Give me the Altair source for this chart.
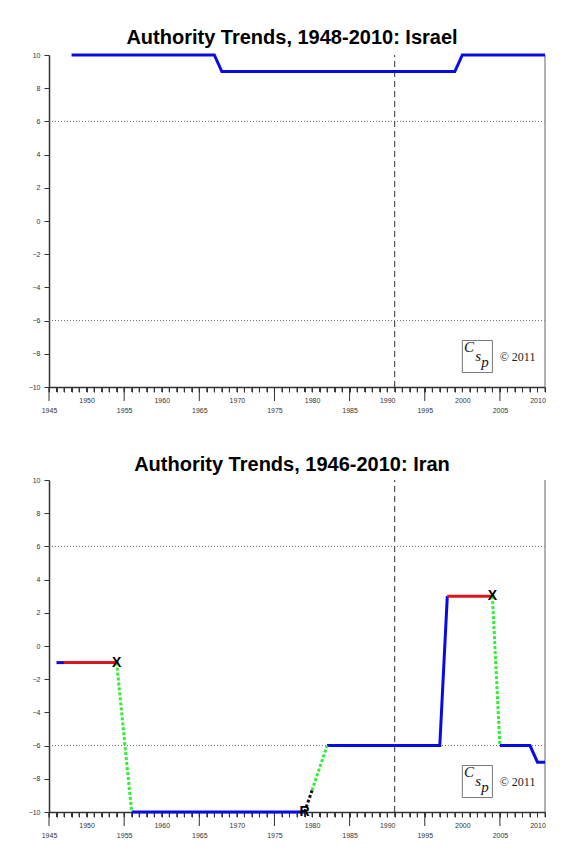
import altair as alt
import pandas as pd

# ---------------- data ----------------
isr_year = [1948, 1967, 1968, 1999, 2000, 2011]
isr_value = [10, 10, 9, 9, 10, 10]

iran_year = [1946, 1947, 1947, 1954, 1954, 1956, 1956, 1979, 1979, 1980, 1980, 1982,
             1982, 1997, 1998, 1998, 2004, 2004, 2005, 2005, 2009, 2010, 2011]
iran_value = [-1, -1, -1, -1, -1, -10, -10, -10, -10, -8.7, -8.7, -6,
              -6, -6, 3, 3, 3, 3, -6, -6, -6, -7, -7]
iran_seg = [0, 0, 1, 1, 2, 2, 3, 3, 4, 4, 5, 5,
            6, 6, 6, 7, 7, 8, 8, 9, 9, 9, 9]
iran_kind = ["Blue", "Blue", "Red", "Red", "Green", "Green", "Blue", "Blue", "Black", "Black", "Green", "Green",
             "Blue", "Blue", "Blue", "Red", "Red", "Green", "Green", "Blue", "Blue", "Blue", "Blue"]

iran_mark_year = [1954, 2004, 1979]
iran_mark_value = [-1, 3, -10]
iran_mark_text = ["X", "X", "R"]

grid_values = [6, -6]
vline_year = [1991]
x_ticks = list(range(1945, 2012))
x_major_ticks = list(range(1945, 2010, 10))
y_ticks = list(range(-10, 11, 2))

logo_box = {"x": [2000.0], "x2": [2004.0], "y": [-7.2], "y2": [-9.13]}
logo_letters = ["C", "s", "p"]
logo_letter_x = [2000.9, 2002.1, 2003.0]
logo_letter_y = [-7.6, -8.15, -8.5]
copyright_text = ["\u00a9 2011"]
copyright_x = [2007.35]
copyright_y = [-8.2]

titles = ["Authority Trends, 1948-2010: Israel", "Authority Trends, 1946-2010: Iran"]

# ---------------- helpers ----------------
W, H = 496, 332
FONT = "Liberation Sans"

xscale = alt.Scale(domain=[1945, 2011], nice=False, zero=False)
yscale = alt.Scale(domain=[-10, 10], nice=False, zero=False)

xaxis = alt.Axis(
    values=x_ticks, title=None, grid=False,
    labelExpr="datum.value % 5 == 0 ? datum.label : ''",
    format="d", labelOverlap=False, labelFlush=False, labelBound=False,
    tickSize=5,
    labelPadding={"condition": {"test": "datum.value % 10 == 5", "value": 14}, "value": 4},
    tickColor="#333333", domainColor="#333333", domainWidth=1.5, tickWidth=1,
    labelFont=FONT, labelFontSize=7, labelColor="#333333",
)
yaxis = alt.Axis(
    values=y_ticks, title=None, grid=False, format="d",
    tickSize=5, labelPadding=4, tickColor="#333333", domainColor="#333333",
    domainWidth=1.5, labelFont=FONT, labelFontSize=7, labelColor="#333333",
    minExtent=36, maxExtent=36, labelOverlap=False, labelFlush=False,
)


def X(field="year"):
    return alt.X(f"{field}:Q", scale=xscale, axis=xaxis)


def Y(field="value"):
    return alt.Y(f"{field}:Q", scale=yscale, axis=yaxis)


def decorations():
    grid_df = pd.DataFrame({"value": grid_values})
    grid = alt.Chart(grid_df).mark_rule(color="#666666", strokeDash=[1, 2], strokeWidth=1).encode(y=Y())
    vl_df = pd.DataFrame({"year": vline_year, "lo": [-10], "hi": [10]})
    vline = alt.Chart(vl_df).mark_rule(color="#333333", strokeDash=[6, 4], strokeWidth=1).encode(
        x=X(), y=Y("lo"), y2="hi")
    rb_df = pd.DataFrame({"year": [2011], "lo": [-10], "hi": [10]})
    rborder = alt.Chart(rb_df).mark_rule(color="#999999", strokeWidth=1.5).encode(
        x=X(), y=Y("lo"), y2="hi")
    mn_df = pd.DataFrame({"year": x_ticks})
    minor = alt.Chart(mn_df).mark_rule(color="#333333", strokeWidth=1, clip=False).encode(
        x=X(), y=alt.value(H), y2=alt.value(H + 5))
    mt_df = pd.DataFrame({"year": x_major_ticks})
    major = alt.Chart(mt_df).mark_rule(color="#333333", strokeWidth=1, clip=False).encode(
        x=X(), y=alt.value(H), y2=alt.value(H + 14))
    box_df = pd.DataFrame(logo_box)
    box = alt.Chart(box_df).mark_rect(fill="white", stroke="#777777", strokeWidth=1).encode(
        x=X("x"), x2="x2", y=Y("y"), y2="y2")
    let_df = pd.DataFrame({"year": logo_letter_x, "value": logo_letter_y, "t": logo_letters})
    letters = alt.Chart(let_df).mark_text(font="Liberation Serif", fontStyle="italic", fontSize=15,
                                          color="#111111").encode(x=X(), y=Y(), text="t:N")
    cp_df = pd.DataFrame({"year": copyright_x, "value": copyright_y, "t": copyright_text})
    cp = alt.Chart(cp_df).mark_text(font="Liberation Serif", fontSize=12, color="#222222").encode(
        x=X(), y=Y(), text="t:N")
    return [grid, vline, rborder, minor, major, box, letters, cp]


def title(t):
    return alt.TitleParams(text=t, font=FONT, fontSize=20, fontWeight="bold", color="black",
                           anchor="middle", frame="group", dx=-5, offset=1)


# ---------------- Israel ----------------
isr_df = pd.DataFrame({"year": isr_year, "value": isr_value})
isr_line = alt.Chart(isr_df).mark_line(color="#0A0AE6", strokeWidth=3, strokeCap="butt").encode(x=X(), y=Y())
top = alt.layer(*decorations(), isr_line).properties(width=W, height=H, title=title(titles[0]))

# ---------------- Iran ----------------
iran_df = pd.DataFrame({"year": iran_year, "value": iran_value, "seg": iran_seg, "kind": iran_kind})
styles = {
    "Blue": dict(color="#0A0AE6", strokeWidth=3),
    "Red": dict(color="#E0141E", strokeWidth=3),
    "Green": dict(color="#33EE33", strokeWidth=3, strokeDash=[3, 2]),
    "Black": dict(color="#111111", strokeWidth=3, strokeDash=[3, 2]),
}
iran_layers = []
for k, st in styles.items():
    iran_layers.append(
        alt.Chart(iran_df).transform_filter(alt.datum.kind == k)
        .mark_line(strokeCap="butt", **st)
        .encode(x=X(), y=Y(), detail="seg:N", order="year:Q")
    )
mk_df = pd.DataFrame({"year": iran_mark_year, "value": iran_mark_value, "t": iran_mark_text})
markers = alt.Chart(mk_df).mark_text(font=FONT, fontSize=14, fontWeight="bold", color="black").encode(
    x=X(), y=Y(), text="t:N")
bottom = alt.layer(*decorations(), *iran_layers, markers).properties(width=W, height=H, title=title(titles[1]))

chart = alt.vconcat(top, bottom, spacing=42).properties(
    padding={"left": 5, "top": 20, "right": 5, "bottom": 5}
).configure_view(stroke=None)

chart.save("out.html", embed_options={"renderer": "svg", "actions": False})
